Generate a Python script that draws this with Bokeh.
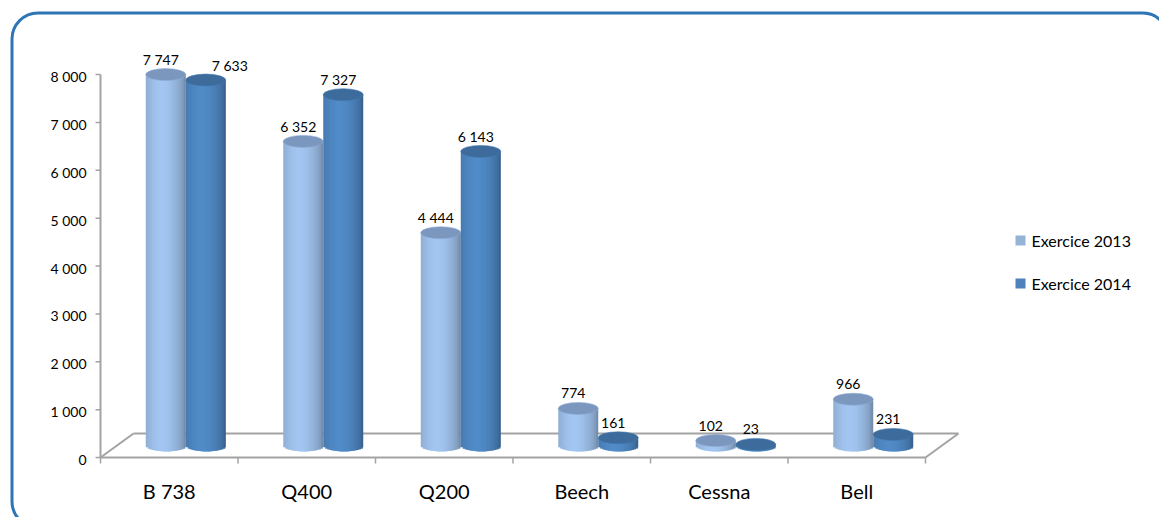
import numpy as np
from bokeh.plotting import figure
from bokeh.models import Range1d, BoxAnnotation, ColumnDataSource
from bokeh.core.properties import value
from bokeh.embed import file_html
from bokeh.resources import INLINE

# ---------------- data ----------------
categories = ["B 738", "Q400", "Q200", "Beech", "Cessna", "Bell"]
exercice_2013 = [7747, 6352, 4444, 774, 102, 966]
exercice_2014 = [7633, 7327, 6143, 161, 23, 231]
series_names = ["Exercice 2013", "Exercice 2014"]
y_ticks = [0, 1000, 2000, 3000, 4000, 5000, 6000, 7000, 8000]
y_tick_labels = ["0", "1 000", "2 000", "3 000", "4 000", "5 000", "6 000", "7 000", "8 000"]

# ---------------- layout (pixels) ----------------
W, H = 1159, 517
AX = 100.0          # px of value axis
PITCH = 137.5       # px per category
ZY = 457.0          # px (from top) of value 0
PPU = 47.875 / 1000 # px per value unit
DEPTH_X, DEPTH_Y = 33.0, 24.0
BAR_PX = 40.0
ELL_PX = 12.0
FONT = value("Lato")

def X(px):
    return px / PITCH

def Y(px):
    return px / PPU

x0 = -AX / PITCH - 0.5
x1 = (W - AX) / PITCH - 0.5
y0 = -(H - ZY) / PPU
y1 = ZY / PPU

def xd(px):
    return x0 + px / PITCH

def yd(py):
    return y1 - py / PPU

p = figure(width=W, height=H, x_range=Range1d(x0, x1), y_range=Range1d(y0, y1),
           output_backend="svg", toolbar_location=None, min_border=0)
p.axis.visible = False
p.grid.visible = False
p.outline_line_color = None
p.background_fill_color = "white"
p.border_fill_color = "white"

n = len(categories)
GRAY = "#A3A3A3"
left_b, right_b = -0.5, n - 0.5
bx, by = X(DEPTH_X), Y(DEPTH_Y)

# floor (back line + diagonals)
p.segment(x0=[left_b + bx, left_b, right_b], y0=[by, 0, 0],
          x1=[right_b + bx, left_b + bx, right_b + bx], y1=[by, by, by],
          line_color=GRAY, line_width=2)

# ---------------- cylinders ----------------
MX, MY = X(DEPTH_X / 2), Y(DEPTH_Y / 2)
BW = X(BAR_PX)
EH = Y(ELL_PX)
NS = 20

def shade(hexc, k):
    h = hexc.lstrip("#")
    r, g, b = (int(h[i:i + 2], 16) for i in (0, 2, 4))
    f = lambda c: max(0, min(255, int(round(c * k))))
    return "#%02x%02x%02x" % (f(r), f(g), f(b))

body_base = ["#9FC2EC", "#4F88C4"]
top_cols = ["#7C97BE", "#3C6B9C"]
legend_cols = ["#95B3D7", "#4F81BD"]
nudges = [[-5] * n, [24, -5, -5, -5, -5, -5]]

for s, vals in enumerate([exercice_2013, exercice_2014]):
    xs, tops, bots, widths, cols = [], [], [], [], []
    centers = [i + MX + (s - 0.5) * BW for i in range(n)]
    for c, v in zip(centers, vals):
        for j in range(NS):
            u = -1 + (2 * j + 1) / NS
            t = (u + 1) / 2
            k = 0.80 + 0.22 * np.cos(np.pi * (t - 0.4) / 1.1)
            if t > 0.9:
                k -= (t - 0.9) * 0.8
            w = BW / NS
            if j < NS - 1:
                xs.append(c + u * BW / 2 + w * 0.4)
                widths.append(w * 1.8)
            else:
                xs.append(c + u * BW / 2)
                widths.append(w)
            tops.append(v + MY)
            bots.append(MY - EH / 2 * np.sqrt(max(0.0, 1 - u * u)))
            cols.append(shade(body_base[s], k))
    p.vbar(x=xs, width=widths, top=tops, bottom=bots, fill_color=cols, line_color=None)
    p.ellipse(x=centers, y=[v + MY for v in vals], width=BW, height=EH,
              fill_color=top_cols[s], line_color=shade(top_cols[s], 1.12), line_width=0.6)
    src = ColumnDataSource(dict(
        x=centers, y=[v + MY for v in vals],
        t=[f"{v:,}".replace(",", " ") for v in vals],
        dx=nudges[s]))
    p.text(x="x", y="y", text="t", x_offset="dx", y_offset=-15, source=src,
           text_align="center", text_baseline="middle", text_font=FONT,
           text_font_size="14px", text_color="black")

# front floor line + value axis
p.segment(x0=[left_b, left_b], y0=[0, 0], x1=[right_b, left_b], y1=[0, y_ticks[-1]],
          line_color=GRAY, line_width=2)
# y ticks
p.segment(x0=[left_b - X(5)] * len(y_ticks), y0=y_ticks,
          x1=[left_b] * len(y_ticks), y1=y_ticks, line_color=GRAY, line_width=1.5)
p.text(x=[left_b] * len(y_ticks), y=y_ticks, text=y_tick_labels, x_offset=-14,
       y_offset=2, text_align="right", text_baseline="middle", text_font=FONT,
       text_font_size="14px", text_color="black")
# x ticks
bounds = [i - 0.5 for i in range(n + 1)]
p.segment(x0=bounds, y0=[0] * len(bounds), x1=bounds, y1=[-Y(6)] * len(bounds),
          line_color=GRAY, line_width=1.5)
p.text(x=list(range(n)), y=[0] * n, text=categories, y_offset=33,
       text_align="center", text_baseline="middle", text_font=FONT,
       text_font_size="20px", text_color="black")

# legend
p.scatter(x=[xd(1020), xd(1020)], y=[yd(240), yd(283)], marker="square", size=10,
          fill_color=legend_cols, line_color=None)
p.text(x=[xd(1031), xd(1031)], y=[yd(240), yd(283)], text=series_names,
       text_align="left", text_baseline="middle", text_font=FONT,
       text_font_size="16px", text_color="black")

# rounded frame
p.add_layout(BoxAnnotation(left=xd(11.5), right=xd(1168), top=yd(12.5), bottom=yd(527),
                           fill_color=None, fill_alpha=0, line_color="#2E75B6",
                           line_alpha=1.0, line_width=3, border_radius=26))

open("out.html", "w").write(file_html(p, INLINE))
